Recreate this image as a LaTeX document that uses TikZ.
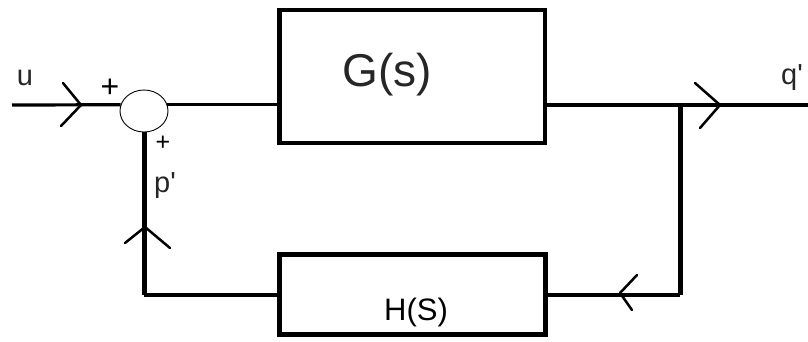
\documentclass[tikz,border=0pt]{standalone}
\usepackage{fontspec}
\setmainfont{Liberation Sans}
\usetikzlibrary{shapes.geometric}
\begin{document}
\begin{tikzpicture}[x=1pt,y=-1pt,
  blockbox/.style={draw,line width=4.5pt,rectangle,inner sep=0pt},
  sumnode/.style={draw,line width=0.9pt,ellipse,minimum width=48pt,minimum height=42pt,inner sep=0pt},
  hline/.style={line width=3.2pt},
  vline/.style={line width=5pt},
  chev/.style={line width=2.5pt,line cap=round,line join=round},
  lbl/.style={inner sep=0pt,text=black!85,font=\fontsize{29}{32}\selectfont}
]
\useasboundingbox (0,0) rectangle (808,341);
% nodes
\node[sumnode] (sum) at (144,111) {};
\node[blockbox,minimum width=265.5pt,minimum height=133pt] (G) at (412.25,76.5) {};
\node[blockbox,minimum width=266pt,minimum height=80pt] (H) at (412.5,294.5) {};
\node[inner sep=0pt,text=black!85,font=\fontsize{46}{50}\selectfont] (Gt) at (387,75) {G(s)};
\node[inner sep=0pt,font=\fontsize{31}{34}\selectfont] (Ht) at (416,312) {H(S)};
\node[lbl] (u) at (25,78) {u};
\node[lbl] (p) at (165,186) {p\textquotesingle};
\node[lbl] (q) at (792,78) {q\textquotesingle};
\node[inner sep=0pt,font=\fontsize{32}{36}\selectfont] (plus1) at (110,88) {+};
\node[inner sep=0pt,font=\fontsize{25}{28}\selectfont] (plus2) at (163,143) {+};
\coordinate (in) at (12,105);
\coordinate (out) at (808,105);
\coordinate (tap) at (680,105);
% connectors
\draw[hline] (in) -- (sum.165);
\draw[hline] (sum.15) -- (sum.15 -| G.west);
\draw[hline] (G.east |- tap) -- (out);
\draw[vline] (tap) -- (tap |- H.east);
\draw[line width=4pt] (tap |- H.east) -- (H.east);
\draw[vline] (sum.south) -- (sum.south |- H.west);
\draw[line width=4pt] (sum.south |- H.west) -- (H.west);
% chevrons
\draw[chev] (63,83) -- (81,105) -- (61,126);
\draw[chev] (695,83) -- (720,105) -- (700,128);
\draw[chev] (637,275) -- (620,293) -- (632,310);
\draw[chev] (125,243) -- (145,227) -- (170,248);
\end{tikzpicture}
\end{document}
